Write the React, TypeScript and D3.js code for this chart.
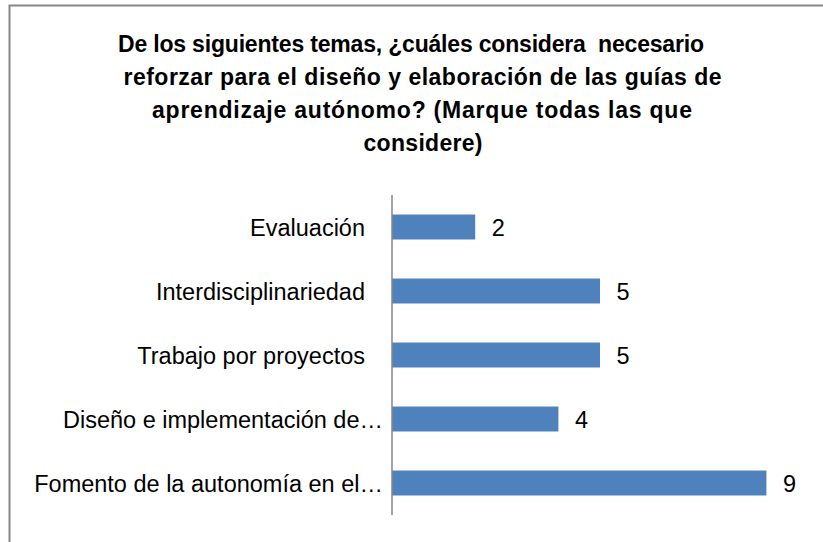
import React from "react";
import { scaleBand, scaleLinear } from "d3";

const titleLines = [
  "De los siguientes temas, ¿cuáles considera  necesario",
  "reforzar para el diseño y elaboración de las guías de",
  "aprendizaje autónomo? (Marque todas las que",
  "considere)",
];

const categories = [
  "Evaluación",
  "Interdisciplinariedad",
  "Trabajo por proyectos",
  "Diseño e implementación de…",
  "Fomento de la autonomía en el…",
];

const values = [2, 5, 5, 4, 9];

const W = 823;
const H = 542;
const font = "'Liberation Sans', Arial, sans-serif";

// title line placement (centre x, rendered width) to mimic the original wrap
const titleCx = [411, 422.5, 422, 423];
const titleWidth = [586, 598, 540, 119];

function App() {
  const axisX = 392;
  const top = 195;
  const bottom = 515;

  const y = scaleBand<string>()
    .domain(categories)
    .range([top, bottom])
    .paddingInner(0.61)
    .paddingOuter(0.305);

  const x = scaleLinear().domain([0, 10]).range([axisX, axisX + 416]);

  return (
    <svg
      width={W}
      height={H}
      style={{ position: "absolute", left: 0, top: 0, background: "#fff" }}
    >
      {/* chart frame, cropped on the right and bottom */}
      <path
        d={`M9.5,${H} L9.5,5.5 L${W},5.5`}
        fill="none"
        stroke="#878787"
        strokeWidth={2}
      />

      <g fontFamily={font} fontWeight="bold" fontSize={23} fill="#000" textAnchor="middle">
        {titleLines.map((t, i) => (
          <text
            key={i}
            x={titleCx[i]}
            y={52 + i * 33}
            textLength={titleWidth[i]}
            lengthAdjust="spacing"
            style={{ whiteSpace: "pre" }}
          >
            {t}
          </text>
        ))}
      </g>

      <g>
        {categories.map((c, i) => (
          <rect
            key={c}
            x={x(0)}
            y={y(c)}
            width={x(values[i]) - x(0)}
            height={y.bandwidth()}
            fill="#4F81BD"
          />
        ))}
      </g>

      <line x1={axisX} x2={axisX} y1={top} y2={bottom} stroke="#868686" strokeWidth={1.5} />

      <g fontFamily={font} fontSize={23.5} fill="#000">
        {categories.map((c) => (
          <text
            key={c}
            x={c.endsWith("…") ? 383 : 365}
            y={(y(c) ?? 0) + y.bandwidth() / 2 + 8.5}
            textAnchor="end"
          >
            {c}
          </text>
        ))}
        {categories.map((c, i) => (
          <text
            key={"v" + c}
            x={x(values[i]) + 16.5}
            y={(y(c) ?? 0) + y.bandwidth() / 2 + 8.5}
          >
            {values[i]}
          </text>
        ))}
      </g>
    </svg>
  );
}

export default App;
